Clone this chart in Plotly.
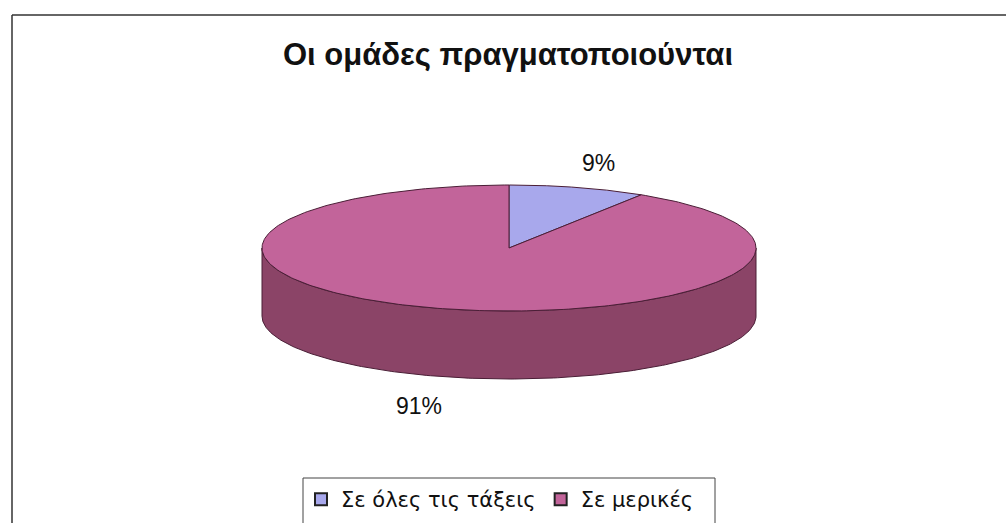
import numpy as np
import plotly.graph_objects as go

# Chart data
title_text = "Οι ομάδες πραγματοποιούνται"
categories = ["Σε όλες τις τάξεις", "Σε μερικές"]
values = [9, 91]
label_texts = ["9%", "91%"]

# Styling
top_colors = ["#a8a8ec", "#c2649a"]
side_colors = ["#7c7cb8", "#8b4467"]
edge_color = "#4a1e36"

W, H = 1006, 523
# Geometry of the tilted pie (pixel space)
cx, cy = 509, 248
rx, ry = 247, 63
depth = 68


def ellipse(theta_deg, dy=0.0):
    t = np.radians(theta_deg)
    return cx + rx * np.sin(t), cy - ry * np.cos(t) + dy


fig = go.Figure()

# slice angles measured clockwise from 12 o'clock
fracs = np.array(values, dtype=float) / np.sum(values)
ends = np.cumsum(fracs) * 360.0
starts = np.concatenate([[0.0], ends[:-1]])

# visible side wall: the front half of the rim, split per slice
for i in range(len(values)):
    a0 = max(starts[i], 90.0)
    a1 = min(ends[i], 270.0)
    if a1 <= a0:
        continue
    th = np.linspace(a0, a1, 200)
    xt, yt = ellipse(th)
    xb, yb = ellipse(th[::-1], depth)
    xs = np.concatenate([xt, xb, xt[:1]])
    ys = np.concatenate([yt, yb, yt[:1]])
    fig.add_trace(go.Scatter(x=xs, y=ys, mode="lines", fill="toself",
                             fillcolor=side_colors[i],
                             line=dict(color=edge_color, width=1),
                             hoverinfo="skip", showlegend=False))

# top faces
for i in range(len(values)):
    th = np.linspace(starts[i], ends[i], 300)
    xa, ya = ellipse(th)
    xs = np.concatenate([[cx], xa, [cx]])
    ys = np.concatenate([[cy], ya, [cy]])
    fig.add_trace(go.Scatter(x=xs, y=ys, mode="lines", fill="toself",
                             fillcolor=top_colors[i],
                             line=dict(color=edge_color, width=1),
                             hoverinfo="skip", showlegend=False))

# percentage labels placed outside each slice
for i in range(len(values)):
    mid = (starts[i] + ends[i]) / 2.0
    t = np.radians(mid)
    lx = cx + rx * 1.3 * np.sin(t)
    ly = cy - ry * 1.4 * np.cos(t)
    if np.cos(t) < 0:
        ly += depth + 5
    fig.add_annotation(x=lx, y=ly, text=label_texts[i], showarrow=False,
                       font=dict(family="Liberation Sans", size=23, color="#111"),
                       xanchor="center", yanchor="middle")

# legend entries
for i, name in enumerate(categories):
    fig.add_trace(go.Scatter(x=[None], y=[None], mode="markers", name=name,
                             marker=dict(symbol="square", size=12,
                                         color=top_colors[i],
                                         line=dict(color="#222", width=1.5))))

fig.update_layout(
    width=W, height=H,
    margin=dict(l=0, r=0, t=0, b=0),
    paper_bgcolor="white", plot_bgcolor="white",
    xaxis=dict(range=[0, W], visible=False, fixedrange=True),
    yaxis=dict(range=[H, 0], visible=False, fixedrange=True),
    title=dict(text=title_text, x=508 / W, xanchor="center", y=1 - 54 / H, yanchor="middle",
               font=dict(family="Liberation Sans", size=31, color="#111", weight="bold")),
    showlegend=True,
    legend=dict(orientation="h", x=500 / W, xanchor="center",
                y=1 - 479 / H, yanchor="top", itemwidth=30,
                font=dict(family="DejaVu Sans", size=21, color="#111"),
                bgcolor="rgba(0,0,0,0)", borderwidth=0, itemclick=False,
                itemsizing="constant"),
    shapes=[
        dict(type="line", xref="x", yref="y", x0=12, y0=15, x1=W, y1=15,
             line=dict(color="#333", width=1.5)),
        dict(type="line", xref="x", yref="y", x0=12, y0=15, x1=12, y1=H,
             line=dict(color="#333", width=1.5)),
        dict(type="rect", xref="x", yref="y", x0=303, y0=478, x1=715, y1=H + 5,
             line=dict(color="#444", width=1)),
    ],
)

fig.write_html("out.html")
